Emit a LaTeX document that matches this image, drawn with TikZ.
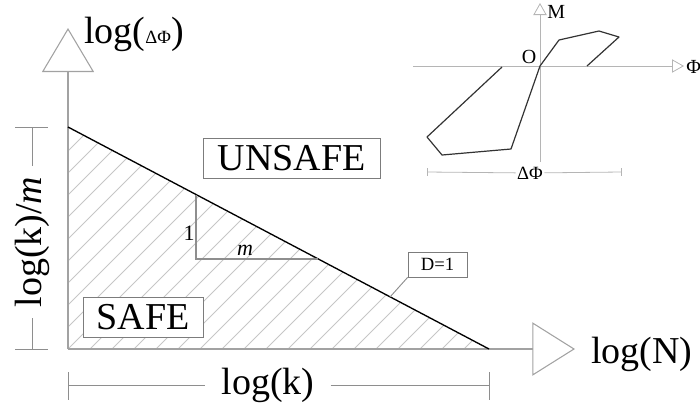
\documentclass[tikz,border=0pt]{standalone}
\usepackage{fontspec}
\setmainfont{Liberation Serif}
\usetikzlibrary{arrows.meta,calc}
\definecolor{caxis}{HTML}{A2A2A2}
\definecolor{chatch}{HTML}{C6C6C6}
\definecolor{cbox}{HTML}{7C7C7C}
\definecolor{cdim}{HTML}{8E8E8E}
\definecolor{cloop}{HTML}{333333}
\newcommand{\bigtxt}{\fontsize{28.5}{30}\selectfont}
\newcommand{\midtxt}{\fontsize{16.5}{18}\selectfont}
\newcommand{\smtxt}{\fontsize{14}{16}\selectfont}
\tikzset{
  lbl/.style={inner sep=0pt,font=\bigtxt},
  tag/.style={draw=cbox,fill=white,inner sep=0pt,font=\bigtxt},
  axis/.style={draw=caxis,line width=0.8pt},
  hatch/.style={draw=chatch,line width=0.6pt},
  dim/.style={draw=cdim,line width=0.7pt},
  >=Stealth
}

\begin{document}
\begin{tikzpicture}[x=0.75pt,y=-0.75pt,
      iaxis/.style={draw=caxis!80,line width=0.6pt},
      ilbl/.style={inner sep=0pt,font=\smtxt}]
    \useasboundingbox (0,0) rectangle (700,412);
    \coordinate (O) at (68,349);
    \coordinate (K) at (68,127);
    \coordinate (Nk) at (489,349);
    \coordinate (ytip) at (68,28);
    \coordinate (xtip) at (575,349);
    \begin{scope}
      \clip (K) -- (O) -- (Nk) -- cycle;
      \foreach \i in {-11,...,19} \draw[hatch] ({68+22*\i},349) -- ++(240,-240);
    \end{scope}
    \draw[axis,-{Triangle[open,length=33pt,width=39pt]}] (O) -- (ytip);
    \draw[axis,-{Triangle[open,length=32pt,width=40pt]}] (O) -- (xtip);
    \draw[line width=1pt] (K) -- (Nk);
    \coordinate (s1) at (196,194.5);
    \coordinate (s2) at (196,259);
    \coordinate (s3) at (318,259);
    \draw[draw=cdim,line width=0.8pt] (s1) -- (s2) -- (s3);
    \node[inner sep=0pt,font=\midtxt] (one) at (189,233) {1};
    \node[inner sep=0pt,font=\midtxt] (em) at (245,250) {\textit{m}};
    \node[tag,minimum width=132.75pt,minimum height=30pt] (unsafe) at (291.5,158) {UNSAFE};
    \node[tag,minimum width=90pt,minimum height=30pt] (safe) at (143,317) {SAFE};
    \node[tag,font=\smtxt,minimum width=44.25pt,minimum height=18.75pt] (dtag) at (437.5,264.5) {D=1};
    \coordinate (dpt) at (390,297);
    \draw[dim] (dtag.south west) -- (dpt);
    \node[lbl,anchor=base west] (ylab) at (84,43) {log({\smtxt ΔΦ})};
    \node[lbl,anchor=base west] (xlab) at (591,363) {log(N)};
    % dimension lines
    \coordinate (bl) at (68,385);
    \coordinate (br) at (489,385);
    \node[lbl,inner xsep=12pt] (kbot) at (268,385) {log(k)};
    \draw[dim] (bl) -- (kbot);
    \draw[dim] (kbot) -- (br);
    \draw[dim] (bl) ++(0,-13) -- ++(0,28);
    \draw[dim] (br) ++(0,-13) -- ++(0,28);
    \coordinate (lt) at (32,127);
    \coordinate (lb) at (32,349);
    \node[lbl,rotate=90,inner xsep=8pt] (kleft) at (32,242) {log(k)/\textit{m}};
    \draw[dim] (lt) -- (kleft);
    \draw[dim] (kleft) -- (lb);
    \draw[dim] (lt) ++(-17,0) -- ++(33,0);
    \draw[dim] (lb) ++(-17,0) -- ++(33,0);
    % inset
    \coordinate (io) at (540,66);
    \coordinate (ileft) at (413,66);
    \coordinate (iright) at (684,66);
    \coordinate (ibot) at (540,162);
    \coordinate (itop) at (540,3);
    \draw[iaxis,-{Triangle[open,length=9pt,width=10pt]}] (ileft) -- (iright);
    \draw[iaxis,-{Triangle[open,length=9pt,width=10pt]}] (ibot) -- (itop);
    \node[ilbl,font=\fontsize{15}{17}\selectfont,anchor=west] (mlab) at (547,12) {M};
    \node[ilbl,font=\fontsize{15}{17}\selectfont,anchor=west] (philab) at (686,67) {Φ};
    \node[ilbl,font=\fontsize{15}{17}\selectfont] (olab) at (529,57) {O};
    \draw[draw=cloop,line width=0.9pt,line join=round] (502,67) -- (427,137) -- (442,155) -- (511,149) -- (io) -- (559,40) -- (599,31) -- (619,37) -- (587,66);
    \coordinate (dl) at (427,172);
    \coordinate (dr) at (621,172);
    \node[ilbl,inner xsep=1pt] (dphi) at (530,173) {ΔΦ};
    \draw[iaxis] (dl) -- (dphi);
    \draw[iaxis] (dphi) -- (dr);
    \draw[iaxis] (dl) ++(0,-4) -- ++(0,8);
    \draw[iaxis] (dr) ++(0,-4) -- ++(0,8);
  \end{tikzpicture}
\end{document}
